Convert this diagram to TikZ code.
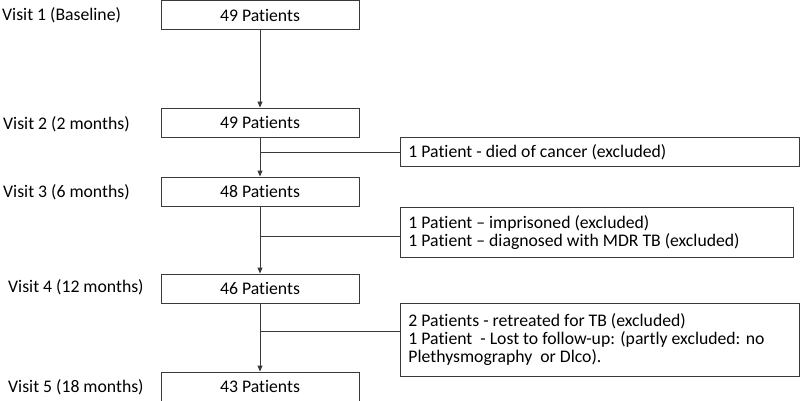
\documentclass[tikz,border=0pt]{standalone}
\usepackage{fontspec}
\setmainfont{Carlito}[Ligatures={NoCommon,NoRare}]
\usetikzlibrary{arrows.meta}
\definecolor{edge}{HTML}{3A3A3A}
\begin{document}
\begin{tikzpicture}[x=1pt,y=-1pt,
  every node/.style={font=\fontsize{17.7}{18}\selectfont, inner sep=0pt},
  mainbox/.style={draw=edge, line width=0.9pt, minimum width=198pt, minimum height=29pt},
  sidebox/.style={draw=edge, line width=0.9pt, anchor=north west, align=flush left, inner xsep=8pt},
  visit/.style={anchor=west},
  flow/.style={draw=edge, line width=0.9pt, -{Triangle[length=6pt,width=5pt]}},
  branch/.style={draw=edge, line width=0.9pt}]
\useasboundingbox (0,0) rectangle (800,401);

% main boxes
\node[mainbox] (b1) at (260,15) {49 Patients};
\node[mainbox] (b2) at (260,122.5) {49 Patients};
\node[mainbox] (b3) at (260,191.5) {48 Patients};
\node[mainbox] (b4) at (260,288.5) {46 Patients};
\node[mainbox] (b5) at (260,386.5) {43 Patients};

% visit labels
\node[visit] (v1) at (2,15) {Visit 1 (Baseline)};
\node[visit] (v2) at (3,124) {Visit 2 (2 months)};
\node[visit] (v3) at (3,192) {Visit 3 (6 months)};
\node[visit] (v4) at (8,287) {Visit 4 (12 months)};
\node[visit] (v5) at (8,387) {Visit 5 (18 months)};

% side boxes
\node[sidebox, text width=383pt, minimum height=29pt] (s1) at (400,137)
  {1 Patient - died of cancer (excluded)};
\node[sidebox, text width=377pt, minimum height=50pt] (s2) at (400,207)
  {1 Patient -- imprisoned (excluded)\\1 Patient -- diagnosed with MDR TB (excluded)};
\node[sidebox, text width=383pt, minimum height=73pt] (s3) at (400,303)
  {2 Patients - retreated for TB (excluded)\\1 Patient\ \ - Lost to follow-up: (partly excluded: no\\Plethysmography\ \ or Dlco).};

% flow arrows
\draw[flow] (b1.south) -- (b2.north);
\draw[flow] (b2.south) -- (b3.north);
\draw[flow] (b3.south) -- (b4.north);
\draw[flow] (b4.south) -- (b5.north);

% branches
\coordinate (j1) at (260,152.5);
\coordinate (j2) at (260,236.5);
\coordinate (j3) at (260,331.5);
\draw[branch] (j1) -- (j1 -| s1.west);
\draw[branch] (j2) -- (j2 -| s2.west);
\draw[branch] (j3) -- (j3 -| s3.west);
\end{tikzpicture}
\end{document}
